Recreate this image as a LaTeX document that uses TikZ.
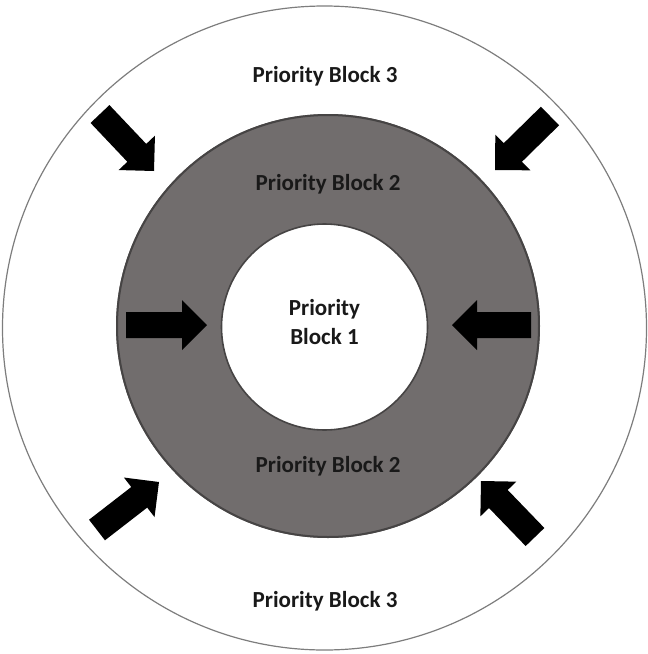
\documentclass[tikz,border=0pt]{standalone}
\usepackage{fontspec}
\setmainfont{Carlito}
\usetikzlibrary{calc}

\definecolor{ringgray}{RGB}{113,109,109}
\definecolor{ringedge}{RGB}{70,68,68}
\definecolor{outeredge}{RGB}{125,125,125}
\definecolor{labeltext}{RGB}{25,25,25}

\tikzset{
  label/.style={font=\fontsize{23}{29}\selectfont\bfseries, text=labeltext, align=center, inner sep=0pt},
  arrowfill/.style={fill=black},
}

% Block arrow from a tail coordinate to a tip coordinate
\newcommand\blockarrow[2]{%
  \coordinate (#1-h) at ($(#2)!25pt!(#1)$);
  \fill[arrowfill]
    ($(#1)!13pt!90:(#2)$) -- ($(#1-h)!13pt!90:(#2)$) -- ($(#1-h)!25pt!90:(#2)$)
    -- (#2)
    -- ($(#1-h)!25pt!-90:(#2)$) -- ($(#1-h)!13pt!-90:(#2)$) -- ($(#1)!13pt!-90:(#2)$) -- cycle;
}

\begin{document}
\begin{tikzpicture}[x=1pt,y=-1pt]
  \useasboundingbox (0,0) rectangle (648,654);

  % three nested priority zones
  \draw[outeredge, line width=1.2pt] (324.5,328) circle[radius=322];
  \fill[ringgray] (328,326) circle[radius=212];
  \draw[ringedge, line width=2pt] (328,326) circle[radius=211];
  \fill[white] (324.5,327) circle[radius=103];
  \draw[ringedge, line width=1.6pt] (324.5,327) circle[radius=103];

  % labels
  \node[label] (pb3top) at (325,76) {Priority Block 3};
  \node[label] (pb2top) at (328,184) {Priority Block 2};
  \node[label] (pb1) at (324.5,322) {Priority\\Block 1};
  \node[label] (pb2bot) at (328,466) {Priority Block 2};
  \node[label] (pb3bot) at (325,601) {Priority Block 3};

  % arrow tails and tips
  \coordinate (tl) at (100,114);   \coordinate (tltip) at (154,171);
  \coordinate (tr) at (550,116);   \coordinate (trtip) at (495,170);
  \coordinate (ml) at (126,325);   \coordinate (mltip) at (207,325);
  \coordinate (mr) at (531,325);   \coordinate (mrtip) at (452,325);
  \coordinate (bl) at (97,530);    \coordinate (bltip) at (159,482);
  \coordinate (br) at (535,537);   \coordinate (brtip) at (481,481);

  \blockarrow{tl}{tltip}
  \blockarrow{tr}{trtip}
  \blockarrow{ml}{mltip}
  \blockarrow{mr}{mrtip}
  \blockarrow{bl}{bltip}
  \blockarrow{br}{brtip}
\end{tikzpicture}
\end{document}
